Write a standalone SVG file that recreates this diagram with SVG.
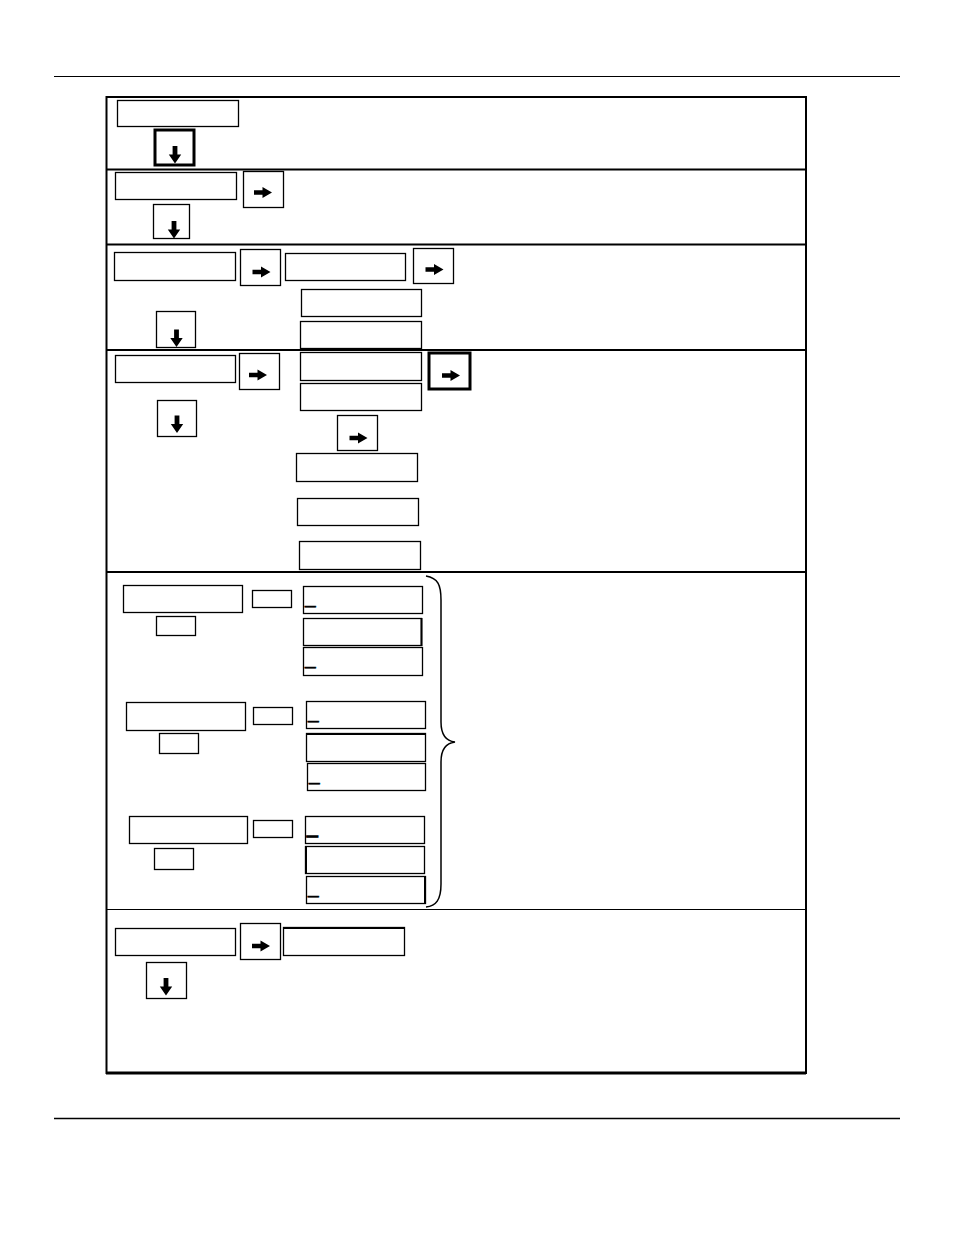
<svg xmlns="http://www.w3.org/2000/svg" width="954" height="1235" viewBox="0 0 954 1235">
<style>
.b{fill:#fff;stroke:#000;stroke-width:1.3}
.t{fill:#fff;stroke:#000;stroke-width:3}
.ln{stroke:#000;fill:none}
.u{font-family:"Liberation Sans",Arial,sans-serif;font-size:19px;fill:#000;stroke:#000;stroke-width:0.6}
.ub{stroke-width:1.4}
</style>
<defs>
<path id="ra" d="M-9,-2.3 H-0.5 V-5.5 L9,0 L-0.5,5.5 V2.3 H-9 Z" fill="#000"/>
<path id="da" d="M-2.4,-8.5 V0 H-6.2 L0,9 L6.2,0 H2.4 V-8.5 Z" fill="#000"/>
</defs>
<rect width="954" height="1235" fill="#fff"/>
<g id="frame">
<line class="ln" x1="54" y1="76.5" x2="900" y2="76.5" stroke-width="1"/>
<line class="ln" x1="54" y1="1118.5" x2="900" y2="1118.5" stroke-width="1.5"/>
<rect x="106.5" y="97" width="699.5" height="976" fill="none" stroke="#000" stroke-width="2"/>
<line class="ln" x1="106" y1="1073" x2="806" y2="1073" stroke-width="3"/>
<line class="ln" x1="106" y1="169.5" x2="806" y2="169.5" stroke-width="2"/>
<line class="ln" x1="106" y1="244.5" x2="806" y2="244.5" stroke-width="2"/>
<line class="ln" x1="106" y1="350" x2="806" y2="350" stroke-width="2"/>
<line class="ln" x1="106" y1="572" x2="806" y2="572" stroke-width="2"/>
<line class="ln" x1="106" y1="909.5" x2="806" y2="909.5" stroke-width="1"/>
</g>
<g id="connectors">
<path class="ln" stroke-width="1.5" d="M426,576 C438,578 441,585 441,600 V722 C441,735 446,741 455,742 C446,743 441,749 441,762 V884 C441,900 436,906 426,907"/>
</g>
<g id="row1">
<rect id="n1" class="b" x="117.5" y="100.5" width="121" height="26"/>
<g id="n1a"><rect class="t" x="155" y="130" width="39" height="35"/><use href="#da" x="175" y="154.5"/></g>
</g>
<g id="row2">
<rect id="n2" class="b" x="115.5" y="172.5" width="121" height="27"/>
<g id="n2r"><rect class="b" x="243.5" y="171.5" width="40" height="36"/><use href="#ra" x="263" y="192.5"/></g>
<g id="n2d"><rect class="b" x="153.5" y="204.5" width="36" height="34"/><use href="#da" x="174" y="229.5"/></g>
</g>
<g id="row3">
<rect id="n3" class="b" x="114.5" y="252.5" width="121" height="28"/>
<g id="n3r"><rect class="b" x="240.5" y="249.5" width="40" height="36"/><use href="#ra" x="261.5" y="272"/></g>
<rect id="n3b" class="b" x="285.5" y="253.5" width="120" height="27"/>
<g id="n3r2"><rect class="b" x="413.5" y="248.5" width="40" height="35"/><use href="#ra" x="434.5" y="269.5"/></g>
<rect id="n3c" class="b" x="301.5" y="289.5" width="120" height="27"/>
<rect id="n3e" class="b" x="300.5" y="321.5" width="121" height="27"/>
<g id="n3d"><rect class="b" x="156.5" y="311.5" width="39" height="36"/><use href="#da" x="176.5" y="338"/></g>
</g>
<g id="row4">
<rect id="n4" class="b" x="115.5" y="355.5" width="120" height="27"/>
<g id="n4r"><rect class="b" x="239.5" y="353.5" width="40" height="36"/><use href="#ra" x="258" y="375"/></g>
<rect id="n4b" class="b" x="300.5" y="352.5" width="121" height="28"/>
<rect id="n4c" class="b" x="300.5" y="383.5" width="121" height="27"/>
<g id="n4t"><rect class="t" x="429" y="353" width="41" height="36"/><use href="#ra" x="451" y="375.5"/></g>
<g id="n4d"><rect class="b" x="157.5" y="400.5" width="39" height="36"/><use href="#da" x="177" y="424"/></g>
<g id="n4r2"><rect class="b" x="337.5" y="415.5" width="40" height="35"/><use href="#ra" x="358.5" y="438"/></g>
<rect id="n4e" class="b" x="296.5" y="453.5" width="121" height="28"/>
<rect id="n4f" class="b" x="297.5" y="498.5" width="121" height="27"/>
<rect id="n4g" class="b" x="299.5" y="541.5" width="121" height="28"/>
</g>
<g id="row5a">
<rect id="n5" class="b" x="123.5" y="585.5" width="119" height="27"/>
<rect id="n5s" class="b" x="252.5" y="590.5" width="39" height="17"/>
<rect id="n5t" class="b" x="156.5" y="616.5" width="39" height="19"/>
<g id="n5b"><rect class="b" x="303.5" y="586.5" width="119" height="27"/><text class="u" x="305" y="603">_</text></g>
<g id="n5c"><rect class="b" x="303.5" y="618.5" width="118" height="27"/><line class="ln" x1="421.5" y1="618" x2="421.5" y2="646" stroke-width="2"/></g>
<g id="n5d"><rect class="b" x="303.5" y="647.5" width="119" height="28"/><text class="u" x="305" y="664">_</text></g>
</g>
<g id="row5b">
<rect id="n6" class="b" x="126.5" y="702.5" width="119" height="28"/>
<rect id="n6s" class="b" x="253.5" y="707.5" width="39" height="17"/>
<rect id="n6t" class="b" x="159.5" y="733.5" width="39" height="20"/>
<g id="n6b"><rect class="b" x="306.5" y="701.5" width="119" height="27"/><text class="u" x="308" y="718">_</text></g>
<g id="n6c"><rect class="b" x="306.5" y="733.5" width="119" height="28"/><line class="ln" x1="306" y1="734" x2="426" y2="734" stroke-width="2"/></g>
<g id="n6d"><rect class="b" x="307.5" y="763.5" width="118" height="27"/><text class="u" x="309" y="780">_</text></g>
</g>
<g id="row5c">
<rect id="n7" class="b" x="129.5" y="816.5" width="118" height="27"/>
<rect id="n7s" class="b" x="253.5" y="820.5" width="39" height="17"/>
<rect id="n7t" class="b" x="154.5" y="848.5" width="39" height="21"/>
<g id="n7b"><rect class="b" x="305.5" y="816.5" width="119" height="27"/><text class="u ub" x="307" y="833">_</text></g>
<g id="n7c"><rect class="b" x="305.5" y="846.5" width="119" height="27"/><line class="ln" x1="306" y1="846" x2="306" y2="874" stroke-width="2"/></g>
<g id="n7d"><rect class="b" x="306.5" y="876.5" width="119" height="27"/><line class="ln" x1="425" y1="876" x2="425" y2="904" stroke-width="2"/><text class="u" x="308" y="893">_</text></g>
</g>
<g id="row6">
<rect id="n8" class="b" x="115.5" y="928.5" width="120" height="27"/>
<g id="n8r"><rect class="b" x="240.5" y="923.5" width="40" height="36"/><use href="#ra" x="261" y="946"/></g>
<g id="n8b"><rect class="b" x="283.5" y="927.5" width="121" height="28"/><line class="ln" x1="283" y1="928" x2="405" y2="928" stroke-width="2"/></g>
<g id="n8d"><rect class="b" x="146.5" y="962.5" width="40" height="36"/><use href="#da" x="166" y="986.5"/></g>
</g>
</svg>
